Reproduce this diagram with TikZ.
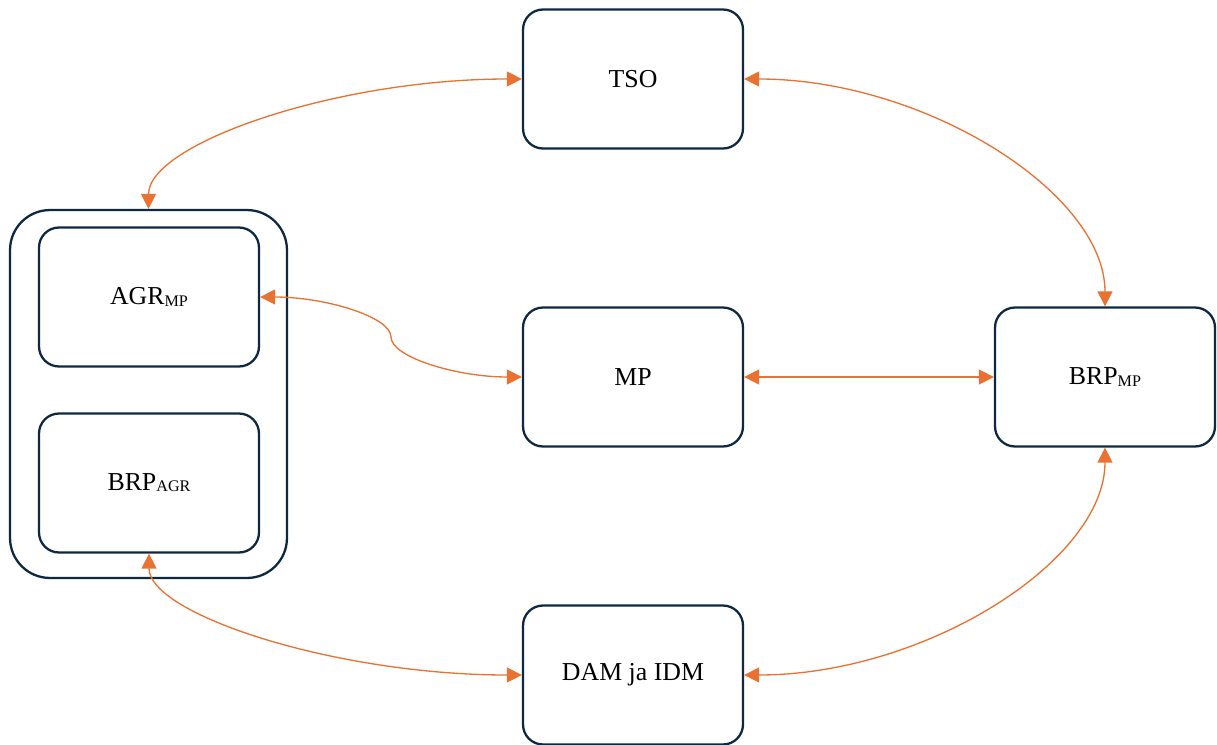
\documentclass[tikz,border=0pt]{standalone}
\usepackage{fontspec}
\setmainfont{Liberation Serif}
\usepackage{tikz}
\usetikzlibrary{calc,arrows.meta}
\definecolor{boxline}{HTML}{0E2841}
\definecolor{linkorange}{HTML}{E97132}
\newcommand{\subtag}[1]{\raisebox{-0.7pt}{\fontsize{9.2}{9.2}\selectfont #1}}
\begin{document}
\begin{tikzpicture}[
                x=0.02cm,y=-0.02cm,
                box/.style={draw=boxline,line width=1.3pt,rounded corners=0.4cm,
                    minimum width=4.4cm,minimum height=2.78cm,align=center,
                    font=\fontsize{14.7}{17}\selectfont},
                group/.style={draw=boxline,line width=1.3pt,rounded corners=0.8cm,
                    minimum width=5.54cm,minimum height=7.36cm},
                link/.style={color=linkorange,line width=0.75pt,
                    {Triangle[length=0.3cm,width=0.3cm]}-{Triangle[length=0.3cm,width=0.3cm]}}
            ]
                \useasboundingbox (0,0) rectangle (1217,744);

                \node[group] (grp) at (148.5,394) {};
                \node[box] (agr) at (149,297) {AGR\subtag{MP}};
                \node[box] (brpagr) at (149,483) {BRP\subtag{AGR}};

                \node[box] (tso) at (633,79) {TSO};
                \node[box] (mp) at (633,377) {MP};
                \node[box] (brpmp) at (1105,377) {BRP\subtag{MP}};
                \node[box] (dam) at (633,675) {DAM ja IDM};

                \coordinate (kink) at ($(agr.east)!0.5!(mp.west)$);

                \draw [link] (grp.north) .. controls ($(grp.north)!0.5!(grp.north |- tso.west)$)
                    and ($(tso.west)!0.5!(grp.north |- tso.west)$) .. (tso.west);
                \draw [link] (tso.east) .. controls ($(tso.east)!0.5!(brpmp.north |- tso.east)$)
                    and ($(brpmp.north)!0.5!(brpmp.north |- tso.east)$) .. (brpmp.north);
                \draw [link] (brpagr.south) .. controls ($(brpagr.south)!0.5!(brpagr.south |- dam.west)$)
                    and ($(dam.west)!0.5!(brpagr.south |- dam.west)$) .. (dam.west);
                \draw [link] (brpmp.south) .. controls ($(brpmp.south)!0.5!(brpmp.south |- dam.east)$)
                    and ($(dam.east)!0.5!(brpmp.south |- dam.east)$) .. (dam.east);

                \draw [link] (agr.east) .. controls ($(agr.east)!0.5!(kink |- agr.east)$)
                    and ($(kink)!0.5!(kink |- agr.east)$) .. (kink)
                    .. controls ($(kink)!0.5!(kink |- mp.west)$)
                    and ($(mp.west)!0.5!(kink |- mp.west)$) .. (mp.west);
                \draw [link] (mp.east) -- (brpmp.west);
            \end{tikzpicture}
\end{document}
